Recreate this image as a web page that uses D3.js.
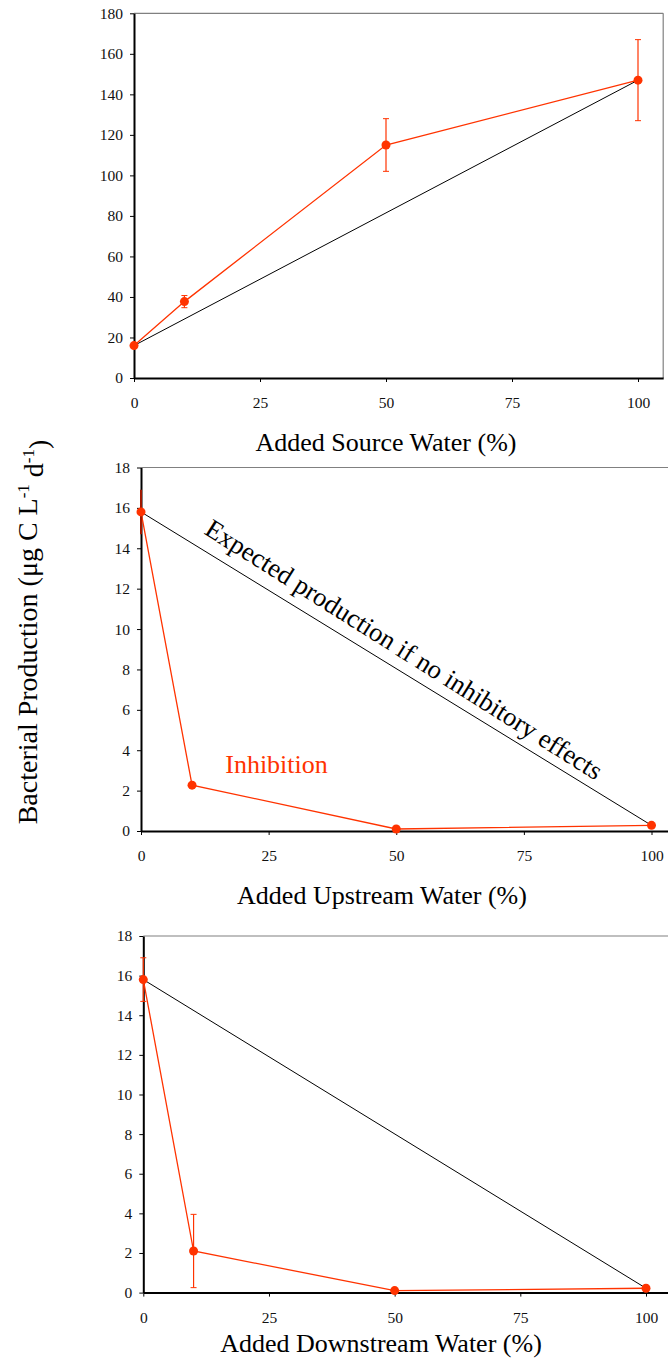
<!DOCTYPE html>
<html>
<head>
<meta charset="utf-8">
<script src="https://cdn.jsdelivr.net/npm/d3@7"></script>
<style>
  body { margin: 0; background: #fff; }
  text { font-family: "Liberation Serif", "Times New Roman", serif; }
</style>
</head>
<body>
<div id="chart"></div>
<script>
// data
var addedPct = [0, 10, 50, 100];
var xTickVals = [0, 25, 50, 75, 100];

var sourceProd = [16, 37.7, 115, 147];
var sourceErr = [0, 3, 13, 20];
var sourceTicks = [0, 20, 40, 60, 80, 100, 120, 140, 160, 180];

var upstreamProd = [15.8, 2.27, 0.1, 0.28];
var upstreamErr = [1.1, 0, 0, 0];

var downstreamProd = [15.8, 2.1, 0.1, 0.22];
var downstreamErr = [1.1, 1.85, 0, 0];

var mixTicks = [0, 2, 4, 6, 8, 10, 12, 14, 16, 18];

var red = "#ff3300";
var serif = '"Liberation Serif", "Times New Roman", serif';

var svg = d3.select("#chart").append("svg")
    .attr("width", 668)
    .attr("height", 1361);

// layout of the three panels (pixels)
var panels = [
  {left: 134, x100: 638, top: 13.3, bottom: 378, ymax: 180, ticks: sourceTicks,
   vals: sourceProd, err: sourceErr, title: "Added Source Water (%)", titleX: 386, titleDy: 73},
  {left: 141, x100: 651.5, top: 467.5, bottom: 831, ymax: 18, ticks: mixTicks,
   vals: upstreamProd, err: upstreamErr, title: "Added Upstream Water (%)", titleX: 382, titleDy: 73,
   errColor: "#a01800", noCap0: true},
  {left: 143.3, x100: 646, top: 936, bottom: 1292.6, ymax: 18, ticks: mixTicks,
   vals: downstreamProd, err: downstreamErr, title: "Added Downstream Water (%)", titleX: 381, titleDy: 59}
];

panels.forEach(function(p) {
  var unit = (p.x100 - p.left) / 100;
  var x = d3.scaleLinear().domain([0, 105]).range([p.left, p.left + 105 * unit]);
  var y = d3.scaleLinear().domain([0, p.ymax]).range([p.bottom, p.top]);
  p.x = x; p.y = y;

  var g = svg.append("g");

  // frame: grey top and right
  g.append("line")
      .attr("x1", x(0)).attr("x2", x(105))
      .attr("y1", y(p.ymax)).attr("y2", y(p.ymax))
      .style("stroke", "#808080").style("stroke-width", 1.2);
  g.append("line")
      .attr("x1", x(105)).attr("x2", x(105))
      .attr("y1", y(p.ymax)).attr("y2", y(0))
      .style("stroke", "#808080").style("stroke-width", 1.2);

  var xAxis = d3.axisBottom(x).tickValues(xTickVals).tickSize(4).tickSizeOuter(0).tickPadding(15);
  var yAxis = d3.axisLeft(y).tickValues(p.ticks).tickSize(4).tickSizeOuter(0).tickPadding(7);

  var gx = g.append("g").attr("transform", "translate(0," + y(0) + ")").call(xAxis);
  var gy = g.append("g").attr("transform", "translate(" + x(0) + ",0)").call(yAxis);

  [gx, gy].forEach(function(a) {
    a.attr("font-family", null).attr("font-size", null);
    a.select(".domain").style("stroke", "#000").style("stroke-width", 2);
    a.selectAll(".tick line").style("stroke", "#000").style("stroke-width", 1);
    a.selectAll(".tick text")
        .style("font-family", serif)
        .style("font-size", "15.5px")
        .style("fill", "#111");
  });

  g.append("text")
      .attr("x", p.titleX)
      .attr("y", y(0) + p.titleDy)
      .attr("text-anchor", "middle")
      .style("font-size", "26px")
      .style("fill", "#000")
      .text(p.title);

  // expected line (no interaction)
  var n = p.vals.length;
  g.append("line")
      .attr("x1", x(addedPct[0])).attr("y1", y(p.vals[0]))
      .attr("x2", x(addedPct[n - 1])).attr("y2", y(p.vals[n - 1]))
      .style("stroke", "#000").style("stroke-width", 1);

  var pts = addedPct.map(function(d, i) { return {x: d, v: p.vals[i], e: p.err[i]}; });

  g.append("path")
      .datum(pts)
      .attr("d", d3.line().x(function(d) { return x(d.x); }).y(function(d) { return y(d.v); }))
      .style("fill", "none")
      .style("stroke", red)
      .style("stroke-width", 1.3);

  var eb = g.selectAll(".err").data(pts.filter(function(d) { return d.e > 0; }))
    .enter().append("g").attr("class", "err");
  eb.append("line")
      .attr("x1", function(d) { return x(d.x); }).attr("x2", function(d) { return x(d.x); })
      .attr("y1", function(d) { return y(d.v - d.e); }).attr("y2", function(d) { return y(d.v + d.e); })
      .style("stroke", function(d) { return (p.errColor && d.x === 0) ? p.errColor : red; })
      .style("stroke-width", function(d) { return (p.errColor && d.x === 0) ? 2 : 1.2; });
  [-1, 1].forEach(function(s) {
    eb.filter(function(d) { return !(p.noCap0 && d.x === 0); })
      .append("line")
        .attr("x1", function(d) { return x(d.x) - 3; }).attr("x2", function(d) { return x(d.x) + 3; })
        .attr("y1", function(d) { return y(d.v + s * d.e); }).attr("y2", function(d) { return y(d.v + s * d.e); })
        .style("stroke", red).style("stroke-width", 1);
  });

  g.selectAll(".pt").data(pts).enter().append("circle")
      .attr("cx", function(d) { return x(d.x); })
      .attr("cy", function(d) { return y(d.v); })
      .attr("r", 4.5)
      .style("fill", red);
});

// annotations on the middle panel
var p2 = panels[1];
var x0 = p2.x(0), y0 = p2.y(upstreamProd[0]);
var x1 = p2.x(100), y1 = p2.y(upstreamProd[3]);
var ang = Math.atan2(y1 - y0, x1 - x0) * 180 / Math.PI + 0.7;
var tx = 49.4;
var tv = upstreamProd[0] + (upstreamProd[3] - upstreamProd[0]) * tx / 100;
svg.append("text")
    .attr("transform", "translate(" + p2.x(tx) + "," + p2.y(tv) + ") rotate(" + ang + ")")
    .attr("y", -11.5)
    .attr("text-anchor", "middle")
    .style("font-size", "26.5px")
    .style("fill", "#000")
    .text("Expected production if no inhibitory effects");

svg.append("text")
    .attr("x", p2.x(16.5))
    .attr("y", p2.y(2.88))
    .style("font-size", "26px")
    .style("fill", red)
    .text("Inhibition");

// shared y label
var yl = svg.append("text")
    .attr("transform", "translate(37,632) rotate(-90)")
    .attr("text-anchor", "middle")
    .style("font-size", "28px")
    .style("fill", "#000");
yl.append("tspan").text("Bacterial Production (\u03bcg C L");
yl.append("tspan").attr("dy", "-0.5em").style("font-size", "17px").text("-1");
yl.append("tspan").attr("dy", "0.5em").text(" d");
yl.append("tspan").attr("dy", "-0.5em").style("font-size", "17px").text("-1");
yl.append("tspan").attr("dy", "0.5em").text(")");
</script>
</body>
</html>
